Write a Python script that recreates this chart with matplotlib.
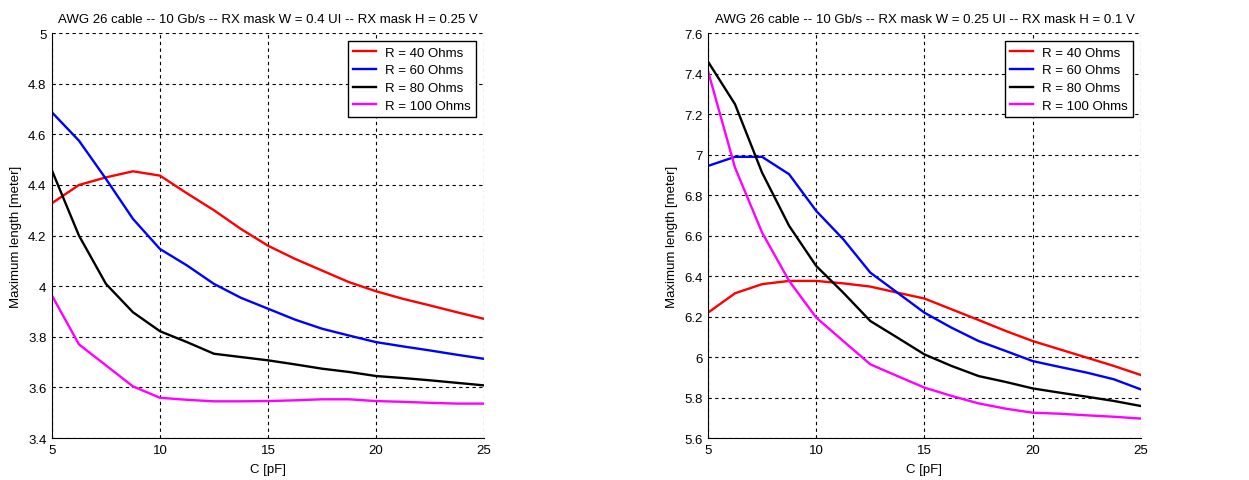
import matplotlib
matplotlib.use("Agg")
import matplotlib.pyplot as plt

C = [5, 6.25, 7.5, 8.75, 10, 11.25, 12.5, 13.75, 15, 16.25, 17.5, 18.75, 20, 21.25, 22.5, 23.75, 25]

# Left panel: W = 0.4 UI, H = 0.25 V
left_r40 = [4.328, 4.40, 4.43, 4.454, 4.437, 4.367, 4.30, 4.226, 4.16, 4.108, 4.062, 4.016, 3.98, 3.95, 3.924, 3.897, 3.871]
left_r60 = [4.687, 4.575, 4.424, 4.266, 4.147, 4.082, 4.009, 3.954, 3.911, 3.868, 3.832, 3.805, 3.779, 3.762, 3.746, 3.729, 3.713]
left_r80 = [4.457, 4.20, 4.009, 3.897, 3.822, 3.779, 3.733, 3.72, 3.707, 3.691, 3.674, 3.661, 3.645, 3.637, 3.628, 3.618, 3.608]
left_r100 = [3.963, 3.77, 3.687, 3.604, 3.559, 3.551, 3.545, 3.545, 3.546, 3.549, 3.553, 3.553, 3.546, 3.543, 3.539, 3.536, 3.536]

# Right panel: W = 0.25 UI, H = 0.1 V
right_r40 = [6.219, 6.315, 6.36, 6.376, 6.376, 6.364, 6.348, 6.318, 6.289, 6.236, 6.183, 6.129, 6.079, 6.038, 5.997, 5.956, 5.911]
right_r60 = [6.944, 6.989, 6.989, 6.903, 6.722, 6.582, 6.417, 6.318, 6.219, 6.145, 6.079, 6.03, 5.98, 5.951, 5.923, 5.89, 5.84]
right_r80 = [7.46, 7.249, 6.911, 6.648, 6.45, 6.318, 6.178, 6.096, 6.013, 5.956, 5.906, 5.877, 5.845, 5.824, 5.804, 5.783, 5.758]
right_r100 = [7.414, 6.936, 6.615, 6.376, 6.195, 6.079, 5.964, 5.906, 5.849, 5.808, 5.771, 5.745, 5.725, 5.72, 5.712, 5.705, 5.696]

labels = ["R = 40 Ohms", "R = 60 Ohms", "R = 80 Ohms", "R = 100 Ohms"]
colors = ["#ff0000", "#0000ff", "#000000", "#ff00ff"]

titles = ["AWG 26 cable -- 10 Gb/s -- RX mask W = 0.4 UI -- RX mask H = 0.25 V",
          "AWG 26 cable -- 10 Gb/s -- RX mask W = 0.25 UI -- RX mask H = 0.1 V"]
xticks = [5, 10, 15, 20, 25]
left_yticks = [3.4, 3.6, 3.8, 4.0, 4.2, 4.4, 4.6, 4.8, 5.0]
left_yticklabels = ["3.4", "3.6", "3.8", "4", "4.2", "4.4", "4.6", "4.8", "5"]
right_yticks = [5.6, 5.8, 6.0, 6.2, 6.4, 6.6, 6.8, 7.0, 7.2, 7.4, 7.6]
right_yticklabels = ["5.6", "5.8", "6", "6.2", "6.4", "6.6", "6.8", "7", "7.2", "7.4", "7.6"]

plt.rcParams['font.family'] = ['Liberation Sans', 'DejaVu Sans']
FS = 9.5
plt.rcParams['font.size'] = FS

fig = plt.figure(figsize=(12.49, 4.81), dpi=100)
ax1 = fig.add_axes([0.0416, 0.0873, 0.3459, 0.8417])
ax2 = fig.add_axes([0.5668, 0.0873, 0.3467, 0.8417])

panels = [
    (ax1, [left_r40, left_r60, left_r80, left_r100], left_yticks, left_yticklabels, titles[0]),
    (ax2, [right_r40, right_r60, right_r80, right_r100], right_yticks, right_yticklabels, titles[1]),
]

for ax, series, yt, ytl, title in panels:
    for s, lab, col in zip(series, labels, colors):
        ax.plot(C, s, color=col, lw=1.7, label=lab)
    ax.set_xlim(5, 25)
    ax.set_ylim(yt[0], yt[-1])
    ax.set_xticks(xticks)
    ax.set_xticklabels([str(x) for x in xticks])
    ax.set_yticks(yt)
    ax.set_yticklabels(ytl)
    ax.grid(True, color='black', linestyle=(0, (3, 3)), linewidth=0.8)
    ax.set_axisbelow(True)
    ax.spines['top'].set_visible(False)
    ax.spines['right'].set_visible(False)
    ax.spines['left'].set_color('black')
    ax.spines['bottom'].set_color('black')
    ax.tick_params(direction='in', length=0, labelsize=FS, pad=4)
    ax.set_xlabel("C [pF]", fontsize=FS, labelpad=5)
    ax.set_ylabel("Maximum length [meter]", fontsize=FS, labelpad=4)
    ax.set_title(title, fontsize=FS, pad=8)
    leg = ax.legend(loc='upper right', fancybox=False, edgecolor='black', framealpha=1,
                    fontsize=FS, handlelength=1.7, handletextpad=0.7, borderaxespad=0.6,
                    labelspacing=0.42, borderpad=0.4)
    leg.get_frame().set_linewidth(1.0)

fig.savefig("out.png", dpi=100)
